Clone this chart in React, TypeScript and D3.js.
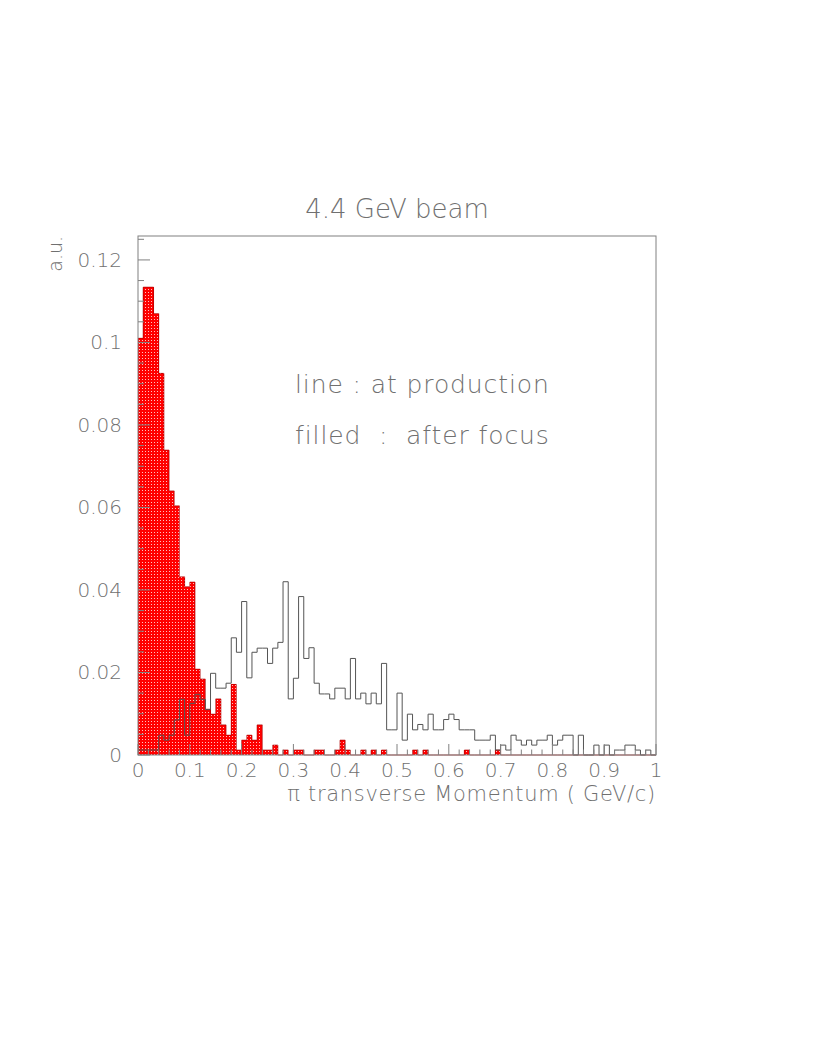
import React from 'react';
import * as d3 from 'd3';

// histogram contents, 100 bins of 0.01 GeV/c from 0 to 1
const afterFocus = [
  0.101, 0.1134, 0.1134, 0.107, 0.0925, 0.0739, 0.064, 0.0604, 0.0432, 0.0408,
  0.0419, 0.0208, 0.0184, 0.0111, 0.0099, 0.0136, 0.0073, 0.0048, 0.0171, 0.0012,
  0.0036, 0.0048, 0.0036, 0.0073, 0.0012, 0.0012, 0.0024, 0, 0.0012, 0,
  0.0012, 0.0012, 0, 0, 0.0012, 0.0012, 0, 0, 0.0012, 0.0036,
  0.0012, 0, 0, 0.0012, 0, 0.0012, 0, 0.0012, 0, 0,
  0, 0, 0, 0.0012, 0, 0.0012, 0, 0, 0, 0,
  0, 0, 0, 0.0012, 0, 0, 0, 0, 0, 0.0012,
  0, 0, 0, 0, 0, 0, 0, 0, 0, 0,
  0, 0, 0, 0, 0, 0, 0, 0, 0, 0,
  0, 0, 0, 0, 0, 0, 0, 0, 0, 0,
];

const atProduction = [
  0.0012, 0.0012, 0.0012, 0.0012, 0.0048, 0.0036, 0.0048, 0.0085, 0.0135, 0.0048,
  0.0125, 0.0147, 0.0135, 0.011, 0.0198, 0.0162, 0.0162, 0.0174, 0.0284, 0.0249,
  0.0372, 0.0187, 0.0249, 0.0259, 0.0259, 0.0222, 0.0259, 0.0273, 0.042, 0.0136,
  0.0186, 0.0384, 0.0234, 0.026, 0.0174, 0.0148, 0.0148, 0.0136, 0.0162, 0.0162,
  0.0136, 0.0234, 0.0136, 0.015, 0.0124, 0.015, 0.0124, 0.0222, 0.0061, 0.0061,
  0.015, 0.0036, 0.0099, 0.0061, 0.0074, 0.0061, 0.0099, 0.0061, 0.0061, 0.0086,
  0.0099, 0.0086, 0.0061, 0.0061, 0.0061, 0.0036, 0.0036, 0.0036, 0.0048, 0.0012,
  0.0024, 0.0012, 0.0048, 0.0036, 0.0024, 0.0036, 0.0024, 0.0036, 0.0036, 0.0048,
  0.0024, 0.0036, 0.0048, 0.0048, 0, 0.0048, 0, 0, 0.0024, 0,
  0.0024, 0, 0.0012, 0.0012, 0.0024, 0.0024, 0.0012, 0, 0.0012, 0,
];

const xTickLabels = ['0', '0.1', '0.2', '0.3', '0.4', '0.5', '0.6', '0.7', '0.8', '0.9', '1'];
const yTickLabels = ['0', '0.02', '0.04', '0.06', '0.08', '0.1', '0.12'];

const title = '4.4 GeV beam';
const xTitle = '\u03c0 transverse Momentum ( GeV/c)';
const yTitle = 'a.u.';
const legendLines = ['line : at production', 'filled  :  after focus'];

const font = "'DejaVu Sans', 'Liberation Sans', sans-serif";
const textColor = '#707070';
const axisColor = '#808080';

export default function App() {
  const W = 817;
  const H = 1058;
  const left = 138, right = 656, top = 236, bottom = 755;

  const x = d3.scaleLinear().domain([0, 1]).range([left, right]);
  const y = d3.scaleLinear().domain([0, 0.1258]).range([bottom, top]);

  const nBins = afterFocus.length;
  const edge = (i: number) => i / nBins;

  // step points: each bin value plus closing point at upper edge
  const steps = (vals: number[]) =>
    vals.map((v, i) => [edge(i), v] as [number, number]).concat([[1, vals[vals.length - 1]]]);

  const area = d3
    .area<[number, number]>()
    .x((d) => x(d[0]))
    .y0(y(0))
    .y1((d) => y(d[1]))
    .curve(d3.curveStepAfter);

  const line = d3
    .line<[number, number]>()
    .x((d) => x(d[0]))
    .y((d) => y(d[1]))
    .curve(d3.curveStepAfter);

  const prodPts = steps(atProduction);
  const focusPts = steps(afterFocus);

  const yMinor = d3.range(0, 0.1256, 0.005);
  const xMinor = d3.range(0, 1.0001, 0.02);

  return (
    <svg
      width={W}
      height={H}
      style={{ position: 'absolute', left: 0, top: 0, background: '#fff' }}
      fontFamily={font}
    >
      <defs>
        <pattern id="reddots" width={3} height={3} patternUnits="userSpaceOnUse">
          <rect width={3} height={3} fill="#ff0000" />
          <rect x={1} y={1} width={1} height={1} fill="#ffc0c0" />
        </pattern>
      </defs>

      {/* title */}
      <text x={(left + right) / 2} y={218} textAnchor="middle" fontSize={26} fill={textColor} fontWeight={200}>
        {title}
      </text>

      {/* filled histogram: after focus */}
      <path d={area(focusPts) || ''} fill="url(#reddots)" stroke="none" shapeRendering="crispEdges" />
      <path
        d={line(focusPts) || ''}
        fill="none"
        stroke="#b00000"
        strokeWidth={0.7}
      />

      {/* line histogram: at production */}
      <path d={line(prodPts) || ''} fill="none" stroke="#555" strokeWidth={1} />

      {/* frame */}
      <rect x={left} y={top} width={right - left} height={bottom - top} fill="none" stroke={axisColor} strokeWidth={1} />

      {/* y ticks */}
      {yMinor.map((v, i) => (
        <line
          key={'ym' + i}
          x1={left}
          x2={left + (i % 4 === 0 ? 12 : 6)}
          y1={y(v)}
          y2={y(v)}
          stroke={axisColor}
        />
      ))}
      {yTickLabels.map((t) => (
        <text
          key={'yl' + t}
          x={122}
          y={y(parseFloat(t)) + 7}
          textAnchor="end"
          fontSize={20}
          fill={textColor}
          fontWeight={200}
        >
          {t}
        </text>
      ))}

      {/* x ticks */}
      {xMinor.map((v, i) => (
        <line
          key={'xm' + i}
          x1={x(v)}
          x2={x(v)}
          y1={bottom}
          y2={bottom - (i % 5 === 0 ? 11 : 5.5)}
          stroke={axisColor}
        />
      ))}
      {xTickLabels.map((t) => (
        <text
          key={'xl' + t}
          x={x(parseFloat(t))}
          y={777}
          textAnchor="middle"
          fontSize={20}
          fill={textColor}
          fontWeight={200}
        >
          {t}
        </text>
      ))}

      {/* axis titles */}
      <text x={right} y={801} textAnchor="end" fontSize={21} letterSpacing={0.7} fill={textColor} fontWeight={200}>
        {xTitle}
      </text>
      <text
        transform={`translate(62,${top}) rotate(-90)`}
        textAnchor="end"
        fontSize={19}
        fill={textColor}
        fontWeight={200}
      >
        {yTitle}
      </text>

      {/* legend text */}
      {legendLines.map((s, i) => (
        <text
          key={'lg' + i}
          x={295}
          y={393 + i * 51}
          fontSize={25}
          letterSpacing={0.9}
          fill={textColor}
          fontWeight={200}
          style={{ whiteSpace: 'pre' }}
        >
          {s}
        </text>
      ))}
    </svg>
  );
}
